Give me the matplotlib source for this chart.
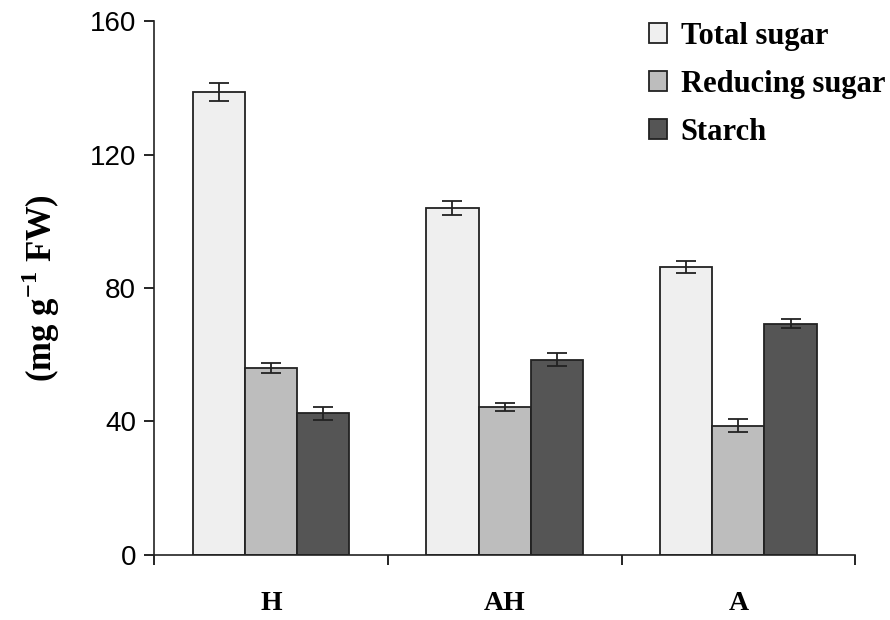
import numpy as np
import matplotlib
matplotlib.use("Agg")
import matplotlib.pyplot as plt
from matplotlib.ticker import FixedLocator, NullFormatter

groups = ["H", "AH", "A"]
series = ["Total sugar", "Reducing sugar", "Starch"]
total_sugar = [138.7, 104.0, 86.2]
total_err = [2.7, 2.2, 1.8]
reducing_sugar = [56.0, 44.3, 38.7]
reducing_err = [1.6, 1.3, 2.0]
starch = [42.4, 58.5, 69.3]
starch_err = [1.9, 2.0, 1.3]

colors = ["#efefef", "#bdbdbd", "#555555"]
serif = ["Liberation Serif", "DejaVu Serif"]
plt.rcParams["mathtext.fontset"] = "custom"
plt.rcParams["mathtext.rm"] = "Liberation Serif:bold"
plt.rcParams["mathtext.bf"] = "Liberation Serif:bold"

fig = plt.figure(figsize=(8.9, 6.2), dpi=100)
ax = fig.add_axes([0.173, 0.105, 0.788, 0.861])

x = np.arange(len(groups))
w = 0.223
values = [total_sugar, reducing_sugar, starch]
errs = [total_err, reducing_err, starch_err]
for i, (v, e) in enumerate(zip(values, errs)):
    ax.bar(x + (i - 1) * w, v, w, color=colors[i], edgecolor="#222222",
           linewidth=1.3, label=series[i],
           yerr=e, capsize=7, error_kw=dict(ecolor="#222222", elinewidth=1.3, capthick=1.3))

ax.set_xlim(-0.5, 2.5)
ax.set_ylim(0, 160)
ax.set_yticks([0, 40, 80, 120, 160])
ax.tick_params(axis="y", labelsize=20, length=7, width=1.2, direction="out", pad=6)
for lab in ax.get_yticklabels():
    lab.set_family(["Liberation Sans", "DejaVu Sans"])

# ticks at group boundaries, labels centred under groups
ax.xaxis.set_major_locator(FixedLocator([-0.5, 0.5, 1.5, 2.5]))
ax.xaxis.set_major_formatter(NullFormatter())
ax.xaxis.set_minor_locator(FixedLocator(x))
ax.set_xticklabels(groups, minor=True, fontfamily=serif, fontweight="bold", fontsize=20)
ax.tick_params(axis="x", which="major", length=7, width=1.2, direction="out")
ax.tick_params(axis="x", which="minor", length=0, pad=26)

for s in ["top", "right"]:
    ax.spines[s].set_visible(False)
for s in ["left", "bottom"]:
    ax.spines[s].set_linewidth(1.2)
    ax.spines[s].set_color("#222222")

ax.set_ylabel(r"(mg g$^{-1}$ FW)", fontfamily=serif, fontweight="bold",
              fontsize=25, labelpad=20)

leg = ax.legend(loc="upper right", bbox_to_anchor=(1.082, 1.05), frameon=False,
                prop=dict(family=serif, weight="bold", size=22),
                handlelength=0.6, handleheight=0.6, handletextpad=0.45,
                labelspacing=0.62)

fig.savefig("out.png", dpi=100)
